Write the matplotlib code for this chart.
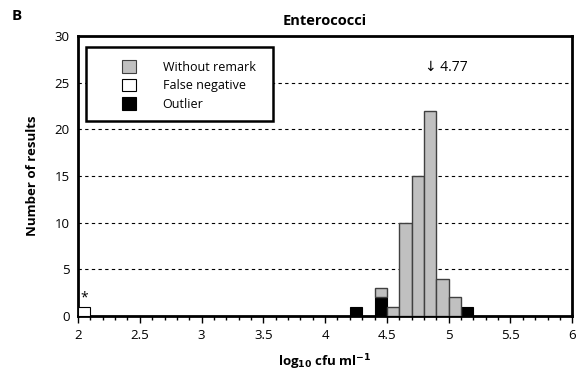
import numpy as np
import matplotlib.pyplot as plt
from matplotlib.patches import Patch, Rectangle

plt.rcParams['font.family'] = ['Open Sans', 'DejaVu Sans']

# histogram bins (left edges, width 0.1 log10 units)
bin_left = np.array([2.0, 4.2, 4.4, 4.5, 4.6, 4.7, 4.8, 4.9, 5.0, 5.1])
without_remark = np.array([0, 0, 1, 1, 10, 15, 22, 4, 2, 0])
false_negative = np.array([1, 0, 0, 0, 0, 0, 0, 0, 0, 0])
outlier = np.array([0, 1, 2, 0, 0, 0, 0, 0, 0, 1])

median = 4.77
y_ticks = [0, 5, 10, 15, 20, 25, 30]
x_ticks = [2, 2.5, 3, 3.5, 4, 4.5, 5, 5.5, 6]

grey = '#c0c0c0'

fig = plt.figure(figsize=(5.78, 3.79), dpi=100)
ax = fig.add_axes([0.135, 0.166, 0.855, 0.739])

w = 0.1
m = outlier > 0
ax.bar(bin_left[m], outlier[m], width=w, align='edge', color='black',
       edgecolor='black', linewidth=0.8, zorder=3)
m = without_remark > 0
ax.bar(bin_left[m], without_remark[m], width=w, align='edge',
       bottom=outlier[m], color=grey, edgecolor='#404040', linewidth=1.0,
       zorder=3)
m = false_negative > 0
ax.bar(bin_left[m], false_negative[m], width=w, align='edge', color='white',
       edgecolor='black', linewidth=0.8, zorder=3)

ax.set_xlim(2, 6)
ax.set_ylim(0, 30)
ax.set_xticks(x_ticks)
ax.set_xticklabels([('%g' % t) for t in x_ticks])
ax.set_xticks(np.arange(2, 6.01, 0.1), minor=True)
ax.set_yticks(y_ticks)
ax.tick_params(axis='x', which='major', direction='out', length=5, width=1,
               labelsize=9.5, pad=4)
ax.tick_params(axis='x', which='minor', direction='out', length=3, width=1)
ax.tick_params(axis='y', length=0, labelsize=9.5, pad=6)

for y in y_ticks[1:-1]:
    ax.axhline(y, color='black', linestyle=(0, (3, 3)), linewidth=0.8, zorder=1)

for s in ax.spines.values():
    s.set_linewidth(2)

ax.text(2.05, 1.9, '*', ha='center', va='center', fontsize=10)
ax.text(4.81, 26.6, '\u2193 %.2f' % median, ha='left', va='center', fontsize=10)

# legend: frame drawn separately so the entries can sit inset
ax.add_patch(Rectangle((0.016, 0.696), 0.378, 0.265, transform=ax.transAxes,
                       facecolor='white', edgecolor='black', linewidth=1.8,
                       zorder=5))
handles = [Patch(facecolor=grey, edgecolor='#404040', linewidth=0.8),
           Patch(facecolor='white', edgecolor='black', linewidth=0.8),
           Patch(facecolor='black', edgecolor='black', linewidth=0.8)]
labels = ['Without remark', 'False negative', 'Outlier']
leg = ax.legend(handles, labels, loc='upper left',
                bbox_to_anchor=(0.089, 0.913),
                fontsize=9, frameon=False,
                handlelength=1.15, handleheight=1.15, handletextpad=2.1,
                labelspacing=0.4, borderpad=0, borderaxespad=0)
leg.set_zorder(6)

ax.set_title('Enterococci', fontsize=10.5, fontweight='bold', pad=8)
ax.set_ylabel('Number of results', fontsize=9.5, fontweight='bold', labelpad=11)
ax.set_xlabel(r'log$_{\mathbf{10}}$ cfu ml$^{\mathbf{-1}}$', fontsize=9.5,
              fontweight='bold', labelpad=8)
fig.text(0.02, 0.975, 'B', fontsize=11, fontweight='bold', va='top')

fig.savefig('out.png', dpi=100)
